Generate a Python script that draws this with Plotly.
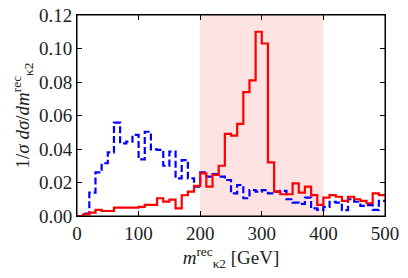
import plotly.graph_objects as go

bin_edges = list(range(0, 510, 10))

red_solid = [0.000, 0.001, 0.002, 0.0036, 0.003, 0.003, 0.005, 0.005, 0.005, 0.005,
             0.0055, 0.0066, 0.0066, 0.0106, 0.0086, 0.0098, 0.0046, 0.0124, 0.0146, 0.018,
             0.0255, 0.0175, 0.0245, 0.030, 0.049, 0.048, 0.055, 0.074, 0.081, 0.110,
             0.103, 0.032, 0.0145, 0.013, 0.013, 0.0195, 0.014, 0.0175, 0.0125, 0.0066,
             0.011, 0.0125, 0.0115, 0.009, 0.0115, 0.010, 0.009, 0.0076, 0.0135, 0.0125]

blue_dashed = [0.000, 0.0015, 0.0139, 0.026, 0.0315, 0.038, 0.0557, 0.0434, 0.0444, 0.0484,
               0.0338, 0.0503, 0.0398, 0.0395, 0.030, 0.0384, 0.0225, 0.0334, 0.0225, 0.0175,
               0.026, 0.0235, 0.025, 0.0235, 0.0215, 0.0135, 0.0185, 0.0106, 0.0155, 0.0145,
               0.0155, 0.0135, 0.0145, 0.015, 0.010, 0.008, 0.0072, 0.011, 0.0045, 0.0036,
               0.0055, 0.0085, 0.008, 0.0035, 0.010, 0.0085, 0.006, 0.0065, 0.0036, 0.009]

x_ticks = [0, 100, 200, 300, 400, 500]
y_ticks = [0.00, 0.02, 0.04, 0.06, 0.08, 0.10, 0.12]
y_tick_labels = ["0.00", "0.02", "0.04", "0.06", "0.08", "0.10", "0.12"]

font_family = "Liberation Serif, DejaVu Serif, serif"

fig = go.Figure()

fig.add_vrect(x0=200, x1=400, fillcolor="#ffe2e2", line_width=0, layer="below")

fig.add_trace(go.Scatter(
    x=bin_edges, y=blue_dashed + [blue_dashed[-1]],
    mode="lines", line=dict(color="#0000ff", width=2.2, dash="7px,3px", shape="hv"),
    showlegend=False, hoverinfo="skip"))

fig.add_trace(go.Scatter(
    x=bin_edges, y=red_solid + [red_solid[-1]],
    mode="lines", line=dict(color="#ff0000", width=2.2, shape="hv"),
    showlegend=False, hoverinfo="skip"))

# frame around the plotting area
fig.add_shape(type="rect", xref="paper", yref="paper", x0=0, y0=0, x1=1, y1=1,
              line=dict(color="black", width=1), layer="above")

axis_common = dict(
    showline=True, linecolor="black", linewidth=1, mirror="ticks",
    ticks="inside", ticklen=5, tickcolor="black", tickwidth=1,
    showgrid=False, zeroline=False, automargin=False,
    ticklabeloverflow="allow",
    tickfont=dict(family=font_family, size=19, color="#222222"),
)

fig.update_xaxes(range=[0, 500], tickvals=x_ticks, ticktext=[str(v) for v in x_ticks],
                 title=dict(text="<i>m</i><sup>rec</sup><sub>κ2</sub> [GeV]",
                            font=dict(family=font_family, size=19, color="#222222"), standoff=2),
                 **axis_common)
fig.update_yaxes(range=[0, 0.12], tickvals=y_ticks, ticktext=y_tick_labels,
                 title=dict(text="1/<i>σ</i> <i>dσ</i>/<i>dm</i><sup>rec</sup><sub>κ2</sub>",
                            font=dict(family=font_family, size=19, color="#222222"), standoff=4),
                 **axis_common)

fig.update_layout(
    width=408, height=278,
    margin=dict(l=77, r=23, t=15, b=62),
    plot_bgcolor="white", paper_bgcolor="white",
)

fig.write_html("out.html", config={"displayModeBar": False},
               post_script="document.body.style.margin='0';")
